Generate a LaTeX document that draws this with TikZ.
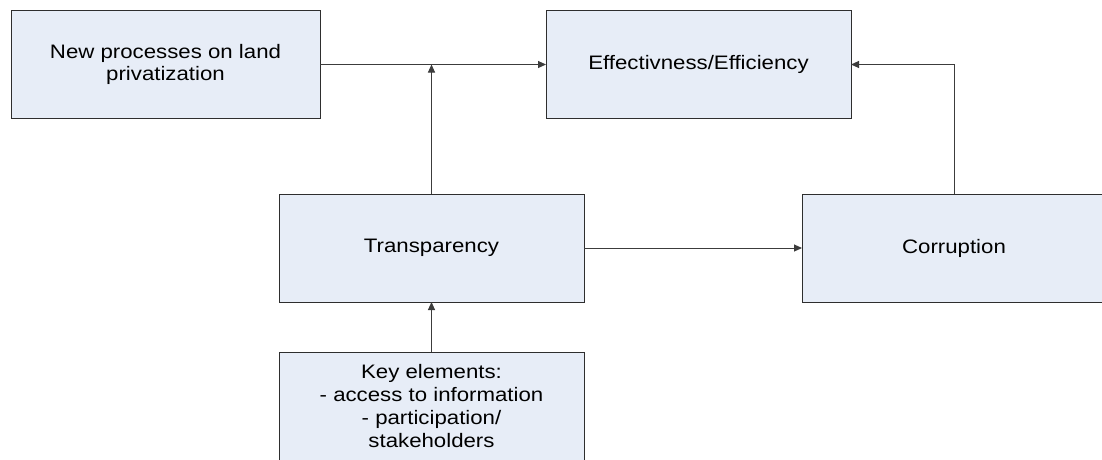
\documentclass[tikz,border=0pt]{standalone}
\usepackage{fontspec}
\setmainfont{Liberation Sans}[FakeStretch=1.14]
\usetikzlibrary{arrows.meta}
\definecolor{boxfill}{HTML}{E7EDF7}
\definecolor{boxline}{HTML}{2E2E2E}
\definecolor{conline}{HTML}{3C3C3C}
\tikzset{
  block/.style={draw=boxline, line width=1pt, fill=boxfill, inner sep=0pt, outer sep=0pt,
    minimum width=305pt, minimum height=108pt, align=center,
    font=\fontsize{19.5}{22.7}\selectfont},
  conn/.style={draw=conline, line width=1pt, -{Triangle[length=8pt,width=7pt]}},
  plain/.style={draw=conline, line width=1pt}
}
\begin{document}
\begin{tikzpicture}[x=1pt,y=-1pt]
\useasboundingbox (0,0) rectangle (1102,459);
\clip (0,0) rectangle (1102,459);
\fill[white] (0,0) rectangle (1102,459);
\node[block, minimum width=309pt] (np) at (165.5,64.5) {New processes on land\\privatization};
\node[block] (ee) at (698.5,64.5) {Effectivness/Efficiency};
\node[block] (tr) at (431.5,248) {Transparency};
\node[block, minimum width=304pt] (co) at (954,248) {Corruption};
\node[block] (ke) at (431.5,406) {Key elements:\\- access to information\\- participation/\\stakeholders};
\coordinate (j) at (tr.north |- np.east);
\coordinate (cc) at (co.north |- ee.east);
\draw[conn] (np.east) -- (ee.west);
\draw[conn] (tr.north) -- (j);
\draw[conn] (co.north) -- (cc) -- (ee.east);
\draw[conn] (tr.east) -- (co.west);
\draw[conn] (ke.north) -- (tr.south);
\end{tikzpicture}
\end{document}
